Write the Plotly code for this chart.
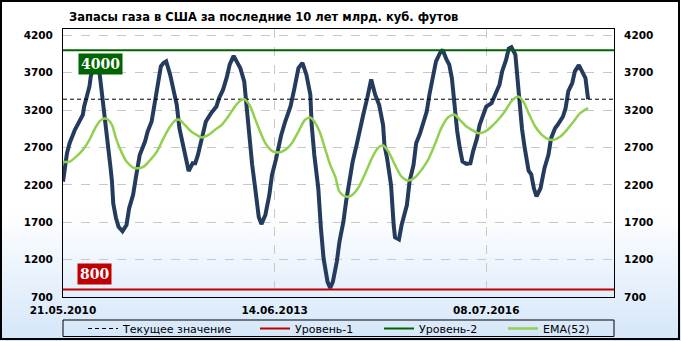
import base64
import pandas as pd
import plotly.graph_objects as go

# ---------------- data ----------------
START_DATE = "2010-05-21"          # first weekly observation
# weeks elapsed since START_DATE, and storage, bcf
storage_weeks = [0, 2, 3, 5, 7, 9, 11, 13, 15, 16, 18, 20, 21, 23, 25, 27, 28, 30, 32, 35,
                 36, 37, 38, 40, 42, 45, 48, 50, 53, 55, 58, 62, 64, 67, 69, 72, 74, 76, 78, 81,
                 83, 86, 88, 91, 93, 95, 98, 100, 102, 105, 108, 112, 116, 118, 121, 124, 126, 129, 131, 134,
                 137, 139, 141, 143, 145, 146, 148, 150, 153, 156, 158, 161, 163, 165, 168, 172, 175, 178, 181, 184,
                 187, 188, 190, 193, 195, 197, 200, 202, 204, 207, 209, 212, 214, 217, 219, 222, 224, 227, 230, 232,
                 233, 236, 239, 242, 243, 245, 248, 250, 251, 254, 256, 260, 262, 265, 267, 270, 272, 275, 277, 280,
                 282, 285, 287, 290, 292, 294, 296, 298, 300, 302, 305, 308, 310, 313, 315, 318, 320, 324, 327, 330,
                 332, 335, 337, 339, 342, 344, 345, 347, 349, 352, 354, 356, 358, 361, 364, 367, 369, 372, 374, 378,
                 380, 382, 385, 387, 390, 392, 395, 397]
storage_values = [2243, 2511, 2623, 2757, 2868, 2935, 3002, 3070, 3137, 3248, 3382, 3516, 3650, 3770, 3840, 3780, 3640, 3360, 3047, 2600,
                  2420, 2250, 1950, 1760, 1640, 1580, 1662, 1886, 2065, 2288, 2600, 2779, 2913, 3047, 3270, 3539, 3784, 3830, 3851, 3673,
                  3494, 3270, 2958, 2690, 2511, 2385, 2489, 2489, 2600, 2824, 3047, 3159, 3248, 3360, 3472, 3650, 3807, 3925, 3851, 3762,
                  3583, 3181, 2779, 2470, 2198, 2050, 1770, 1675, 1797, 2065, 2333, 2540, 2735, 2868, 3047, 3248, 3494, 3762, 3830, 3673,
                  3405, 3002, 2600, 2154, 1618, 1216, 903, 820, 903, 1171, 1439, 1707, 1975, 2288, 2511, 2735, 2913, 3137, 3360, 3539,
                  3610, 3405, 3270, 3000, 2735, 2556, 2198, 1662, 1500, 1470, 1662, 1930, 2243, 2466, 2757, 2891, 3002, 3181, 3405, 3717,
                  3851, 3963, 4008, 3874, 3807, 3628, 3250, 2920, 2690, 2511, 2480, 2489, 2645, 2824, 3002, 3137, 3248, 3293, 3405, 3539,
                  3717, 3874, 4021, 4040, 3941, 3500, 3226, 2950, 2700, 2390, 2340, 2154, 2045, 2154, 2422, 2600, 2824, 2958, 3002, 3114,
                  3226, 3449, 3561, 3717, 3800, 3726, 3628, 3345]

ema_weeks = [0, 5, 10, 15, 20, 25, 29, 33, 37, 40, 44, 48, 53, 57, 61, 66, 71, 76, 81, 85,
             88, 92, 97, 100, 105, 110, 115, 120, 125, 130, 134, 137, 141, 145, 149, 153, 158, 163, 168, 173,
             178, 183, 187, 190, 194, 198, 202, 206, 209, 214, 218, 223, 228, 233, 238, 242, 246, 251, 256, 261,
             266, 271, 276, 281, 286, 291, 296, 300, 305, 309, 314, 319, 324, 329, 334, 339, 344, 348, 352, 357,
             362, 367, 371, 376, 381, 386, 391, 397]
ema_values = [2505, 2511, 2578, 2668, 2802, 2980, 3070, 3083, 3002, 2824, 2645, 2511, 2431, 2422, 2444, 2533, 2645, 2824, 2980, 3061,
              3070, 3002, 2913, 2878, 2833, 2868, 2936, 3002, 3114, 3248, 3324, 3345, 3270, 3092, 2913, 2757, 2654, 2632, 2668, 2757,
              2913, 3070, 3101, 3047, 2913, 2690, 2466, 2300, 2109, 2042, 2056, 2154, 2333, 2534, 2690, 2726, 2645, 2466, 2310, 2257,
              2297, 2400, 2534, 2735, 2958, 3101, 3137, 3070, 2980, 2936, 2891, 2913, 2980, 3070, 3181, 3315, 3382, 3315, 3159, 2980,
              2868, 2810, 2802, 2846, 2936, 3047, 3159, 3226]

current_value = 3345
level_1 = 800
level_2 = 4000

tick_dates = ["2010-05-21", "2013-06-14", "2016-07-08"]
tick_labels = ["21.05.2010", "14.06.2013", "08.07.2016"]
y_ticks = [700, 1200, 1700, 2200, 2700, 3200, 3700, 4200]

title_text = "Запасы газа в США за последние 10 лет млрд. куб. футов"
legend_names = ["Текущее значение", "Уровень-1", "Уровень-2", "EMA(52)"]

# ---------------- helpers ----------------
start = pd.Timestamp(START_DATE)
def to_dates(weeks):
    return [start + pd.Timedelta(days=7 * w) for w in weeks]

x_end = start + pd.Timedelta(days=2916)
x_range = [start, x_end]

W, H = 681, 341
ML, MR, MT, MB = 63, 67, 29, 44
PW, PH = W - ML - MR, H - MT - MB
def px(x):  # pixel x -> paper
    return (x - ML) / PW
def py(y):  # pixel y -> paper
    return (H - MB - y) / PH

NAVY = "#243b5e"
EMA_C = "#92d050"
GREEN = "#006400"
RED = "#c00000"

fig = go.Figure()

# main series (not in legend)
fig.add_trace(go.Scatter(x=to_dates(storage_weeks), y=storage_values, mode="lines",
                         line=dict(color=NAVY, width=4), showlegend=False, hoverinfo="skip"))
# legend traces, each in its own legend box so items sit where the reference puts them
fig.add_trace(go.Scatter(x=x_range, y=[current_value] * 2, mode="lines", name=legend_names[0],
                         line=dict(color="black", width=1, dash="4px,3px"), legend="legend"))
fig.add_trace(go.Scatter(x=x_range, y=[level_1] * 2, mode="lines", name=legend_names[1],
                         line=dict(color=RED, width=2), legend="legend2"))
fig.add_trace(go.Scatter(x=x_range, y=[level_2] * 2, mode="lines", name=legend_names[2],
                         line=dict(color=GREEN, width=2), legend="legend3"))
fig.add_trace(go.Scatter(x=to_dates(ema_weeks), y=ema_values, mode="lines", name=legend_names[3],
                         line=dict(color=EMA_C, width=2.5, shape="spline", smoothing=0.8),
                         legend="legend4"))
# invisible trace to activate right axis
fig.add_trace(go.Scatter(x=[start], y=[y_ticks[0]], yaxis="y2", mode="markers",
                         marker=dict(opacity=0), showlegend=False, hoverinfo="skip"))

tick_font = dict(family="DejaVu Sans", size=10.5, color="black", weight="bold")

yaxis_common = dict(range=[700, 4284], tickvals=y_ticks, ticktext=[str(v) for v in y_ticks],
                    tickfont=tick_font, ticks="outside", ticklen=7, tickcolor="rgba(0,0,0,0)",
                    zeroline=False, fixedrange=True)

def leg(xpix):
    return dict(orientation="h", xref="container", yref="container",
                x=(xpix - 5) / W, xanchor="left", y=1 - 328.5 / H, yanchor="middle",
                font=dict(family="DejaVu Sans", size=11, color="black"),
                bgcolor="rgba(0,0,0,0)", borderwidth=0, itemwidth=30)

fig.update_layout(
    width=W, height=H,
    margin=dict(l=ML, r=MR, t=MT, b=MB, pad=0, autoexpand=False),
    paper_bgcolor="white",
    plot_bgcolor="rgba(0,0,0,0)",
    showlegend=True,
    xaxis=dict(type="date", range=x_range, tickvals=tick_dates,
               ticktext=tick_labels, tickfont=tick_font, ticks="outside", ticklen=3,
               tickcolor="rgba(0,0,0,0)", showgrid=True, gridcolor="#c8c8c8", griddash="dash",
               gridwidth=1, showline=True, linecolor="black", linewidth=1, mirror=True,
               zeroline=False),
    yaxis=dict(**yaxis_common, showgrid=True, gridcolor="#c8c8c8", griddash="dash", gridwidth=1,
               showline=True, linecolor="black", linewidth=1, mirror=True),
    yaxis2=dict(**yaxis_common, overlaying="y", side="right", showgrid=False, showline=False),
    legend=leg(88), legend2=leg(260), legend3=leg(384), legend4=leg(508),
)

# background gradient (whole figure)
svg = ('<svg xmlns="http://www.w3.org/2000/svg" width="681" height="341" preserveAspectRatio="none">'
       '<defs><linearGradient id="g" x1="0" y1="0" x2="0" y2="1">'
       '<stop offset="0" stop-color="#ffffff"/><stop offset="0.62" stop-color="#ffffff"/>'
       '<stop offset="1" stop-color="#d4e6f9"/></linearGradient></defs>'
       '<rect width="681" height="341" fill="url(#g)"/></svg>')
src = "data:image/svg+xml;base64," + base64.b64encode(svg.encode()).decode()
fig.add_layout_image(dict(source=src, xref="paper", yref="paper", x=px(0), y=py(0),
                          sizex=px(W) - px(0), sizey=py(0) - py(H), xanchor="left", yanchor="top",
                          sizing="stretch", layer="below"))

# outer frame and legend box
fig.add_shape(type="rect", xref="paper", yref="paper", x0=px(1), x1=px(W - 2), y0=py(1), y1=py(H - 2),
              line=dict(color="black", width=2), fillcolor="rgba(0,0,0,0)", layer="above")
fig.add_shape(type="rect", xref="paper", yref="paper", x0=0, x1=1, y0=py(320), y1=py(336.5),
              line=dict(color="black", width=1), fillcolor="rgba(0,0,0,0)", layer="above")

# title
fig.add_annotation(text=title_text, xref="paper", yref="paper", x=px(67), y=py(17),
                   xanchor="left", yanchor="middle", showarrow=False,
                   font=dict(family="DejaVu Sans", size=11.5, color="black", weight="bold"))

# level labels
fig.add_annotation(text=str(level_2), xref="paper", yref="paper", x=px(100.5), y=py(64),
                   xanchor="center", yanchor="middle", showarrow=False, bgcolor=GREEN, borderpad=2,
                   font=dict(family="DejaVu Serif", size=14, color="white", weight="bold"))
fig.add_annotation(text=str(level_1), xref="paper", yref="paper", x=px(94), y=py(273.5),
                   xanchor="center", yanchor="middle", showarrow=False, bgcolor=RED, borderpad=2,
                   font=dict(family="DejaVu Serif", size=14, color="white", weight="bold"))

fig.write_html("out.html")
